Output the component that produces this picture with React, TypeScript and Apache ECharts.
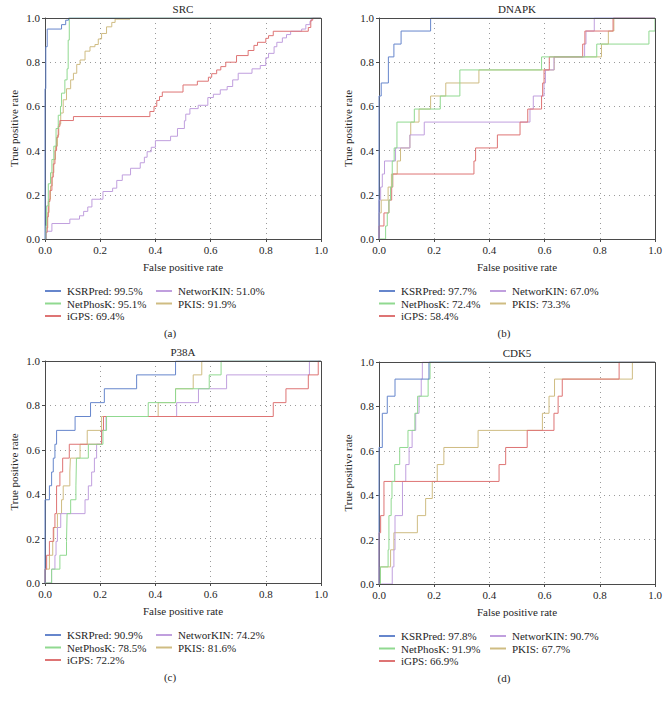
import React, { useEffect, useRef } from "react";
import * as echarts from "echarts";

// ---------- DATA ----------
const panelTitles = ["SRC", "DNAPK", "P38A", "CDK5"];
const captions = ["(a)", "(b)", "(c)", "(d)"];
const methods = ["KSRPred", "NetPhosK", "iGPS", "NetworKIN", "PKIS"];
const methodColors = ["#6686cc", "#90d990", "#de7474", "#c09fde", "#cfbc82"];
const axisTicks = [0, 0.2, 0.4, 0.6, 0.8, 1.0];

const aucSRC = ["99.5%", "95.1%", "69.4%", "51.0%", "91.9%"];
const aucDNAPK = ["97.7%", "72.4%", "58.4%", "67.0%", "73.3%"];
const aucP38A = ["90.9%", "78.5%", "72.2%", "74.2%", "81.6%"];
const aucCDK5 = ["97.8%", "91.9%", "66.9%", "90.7%", "67.7%"];

// ROC step points [false positive rate, true positive rate] where TPR rises
const srcKSRPred = [[0, 0.68], [0.003, 0.87], [0.008, 0.95], [0.06, 0.97], [0.075, 0.99], [0.085, 1]];
const srcNetPhosK = [[0.003, 0.06], [0.006, 0.15], [0.012, 0.25], [0.02, 0.3], [0.025, 0.36], [0.032, 0.42], [0.04, 0.5], [0.048, 0.56], [0.056, 0.6], [0.06, 0.66], [0.072, 0.72], [0.08, 0.77], [0.084, 0.9], [0.088, 1]];
const srcIGPS = [[0.003, 0.03], [0.008, 0.1], [0.012, 0.17], [0.018, 0.22], [0.025, 0.28], [0.03, 0.34], [0.036, 0.4], [0.042, 0.46], [0.048, 0.51], [0.054, 0.536], [0.103, 0.554], [0.38, 0.577], [0.395, 0.6], [0.405, 0.627], [0.415, 0.645], [0.425, 0.665], [0.5, 0.697], [0.552, 0.714], [0.592, 0.732], [0.604, 0.748], [0.622, 0.765], [0.637, 0.78], [0.655, 0.8], [0.694, 0.83], [0.736, 0.853], [0.757, 0.876], [0.77, 0.89], [0.8, 0.908], [0.81, 0.92], [0.827, 0.94], [0.954, 0.957], [0.963, 0.99], [0.97, 1]];
const srcNetworKIN = [[0.005, 0.035], [0.025, 0.07], [0.09, 0.09], [0.125, 0.105], [0.14, 0.125], [0.155, 0.145], [0.17, 0.18], [0.21, 0.215], [0.245, 0.23], [0.26, 0.265], [0.28, 0.29], [0.31, 0.32], [0.345, 0.345], [0.36, 0.37], [0.37, 0.395], [0.385, 0.415], [0.4, 0.445], [0.455, 0.465], [0.48, 0.5], [0.505, 0.535], [0.51, 0.565], [0.525, 0.59], [0.555, 0.605], [0.59, 0.64], [0.61, 0.655], [0.635, 0.675], [0.66, 0.69], [0.68, 0.72], [0.7, 0.75], [0.75, 0.77], [0.78, 0.785], [0.8, 0.82], [0.81, 0.84], [0.83, 0.87], [0.84, 0.89], [0.86, 0.91], [0.875, 0.925], [0.89, 0.94], [0.93, 0.95], [0.945, 0.97], [0.96, 0.985], [0.965, 1]];
const srcPKIS = [[0.004, 0.05], [0.01, 0.12], [0.015, 0.18], [0.02, 0.24], [0.026, 0.3], [0.032, 0.36], [0.038, 0.42], [0.045, 0.47], [0.05, 0.52], [0.057, 0.57], [0.066, 0.63], [0.078, 0.68], [0.093, 0.72], [0.103, 0.75], [0.115, 0.79], [0.127, 0.81], [0.145, 0.85], [0.163, 0.87], [0.181, 0.88], [0.193, 0.905], [0.205, 0.93], [0.223, 0.96], [0.242, 0.98], [0.254, 0.995], [0.308, 1]];

const dnKSRPred = [[0, 0.647], [0.008, 0.706], [0.034, 0.824], [0.054, 0.882], [0.08, 0.941], [0.187, 1]];
const dnNetPhosK = [[0.024, 0.059], [0.03, 0.118], [0.036, 0.176], [0.042, 0.235], [0.048, 0.353], [0.055, 0.412], [0.065, 0.529], [0.128, 0.588], [0.222, 0.647], [0.293, 0.765], [0.589, 0.824], [0.789, 0.882], [0.978, 0.941], [1, 1]];
const dnIGPS = [[0, 0.059], [0.018, 0.118], [0.036, 0.176], [0.046, 0.235], [0.05, 0.294], [0.344, 0.353], [0.35, 0.412], [0.429, 0.471], [0.511, 0.529], [0.539, 0.588], [0.589, 0.647], [0.593, 0.706], [0.598, 0.765], [0.617, 0.824], [0.738, 0.882], [0.746, 0.941], [0.848, 1]];
const dnNetworKIN = [[0, 0.176], [0.006, 0.235], [0.012, 0.294], [0.02, 0.353], [0.06, 0.412], [0.112, 0.471], [0.164, 0.529], [0.547, 0.588], [0.559, 0.647], [0.598, 0.706], [0.603, 0.765], [0.634, 0.824], [0.745, 0.882], [0.75, 0.941], [0.78, 1]];
const dnPKIS = [[0, 0.118], [0.008, 0.176], [0.033, 0.235], [0.045, 0.294], [0.066, 0.353], [0.078, 0.412], [0.112, 0.471], [0.115, 0.529], [0.145, 0.588], [0.187, 0.647], [0.242, 0.706], [0.362, 0.765], [0.635, 0.824], [0.806, 0.882], [0.831, 0.941], [0.851, 1]];

const p38KSRPred = [[0, 0.375], [0.016, 0.438], [0.024, 0.5], [0.03, 0.5625], [0.036, 0.625], [0.042, 0.6875], [0.109, 0.75], [0.165, 0.8125], [0.215, 0.875], [0.332, 0.9375], [0.473, 1]];
const p38NetPhosK = [[0.024, 0.0625], [0.054, 0.125], [0.078, 0.1875], [0.08, 0.3125], [0.093, 0.375], [0.112, 0.4375], [0.114, 0.5625], [0.157, 0.625], [0.21, 0.6875], [0.223, 0.75], [0.374, 0.8125], [0.473, 0.875], [0.595, 0.9375], [0.638, 1]];
const p38IGPS = [[0, 0.0625], [0.006, 0.125], [0.016, 0.1875], [0.03, 0.25], [0.036, 0.3125], [0.042, 0.4375], [0.054, 0.5], [0.064, 0.5625], [0.088, 0.625], [0.205, 0.6875], [0.212, 0.75], [0.827, 0.8125], [0.873, 0.875], [0.954, 0.9375], [0.99, 1]];
const p38NetworKIN = [[0.024, 0.0625], [0.036, 0.125], [0.04, 0.1875], [0.045, 0.25], [0.057, 0.3125], [0.145, 0.375], [0.157, 0.4375], [0.169, 0.5], [0.179, 0.5625], [0.187, 0.625], [0.205, 0.6875], [0.221, 0.75], [0.477, 0.8125], [0.556, 0.875], [0.658, 0.9375], [0.958, 1]];
const p38PKIS = [[0, 0.0625], [0.016, 0.125], [0.028, 0.1875], [0.032, 0.25], [0.045, 0.3125], [0.06, 0.375], [0.066, 0.4375], [0.09, 0.5], [0.092, 0.5625], [0.127, 0.625], [0.153, 0.6875], [0.205, 0.75], [0.41, 0.8125], [0.473, 0.875], [0.537, 0.9375], [0.568, 1]];

const cdkKSRPred = [[0, 0.615], [0.012, 0.769], [0.03, 0.846], [0.058, 0.923], [0.181, 1]];
const cdkNetPhosK = [[0.005, 0.077], [0.033, 0.154], [0.036, 0.308], [0.044, 0.385], [0.047, 0.462], [0.057, 0.538], [0.075, 0.615], [0.105, 0.692], [0.13, 0.769], [0.14, 0.846], [0.178, 0.923], [0.185, 1]];
const cdkIGPS = [[0, 0.231], [0.006, 0.308], [0.018, 0.462], [0.435, 0.538], [0.459, 0.615], [0.537, 0.692], [0.634, 0.769], [0.649, 0.846], [0.664, 0.923], [0.87, 1]];
const cdkNetworKIN = [[0.048, 0.077], [0.054, 0.154], [0.058, 0.308], [0.085, 0.462], [0.097, 0.538], [0.109, 0.615], [0.12, 0.692], [0.133, 0.769], [0.145, 0.846], [0.153, 0.923], [0.157, 1]];
const cdkPKIS = [[0.005, 0.077], [0.042, 0.154], [0.054, 0.231], [0.139, 0.308], [0.169, 0.385], [0.193, 0.462], [0.211, 0.538], [0.235, 0.615], [0.359, 0.692], [0.592, 0.769], [0.616, 0.846], [0.636, 0.923], [0.918, 1]];

const panelCurves = [
  [srcKSRPred, srcNetPhosK, srcIGPS, srcNetworKIN, srcPKIS],
  [dnKSRPred, dnNetPhosK, dnIGPS, dnNetworKIN, dnPKIS],
  [p38KSRPred, p38NetPhosK, p38IGPS, p38NetworKIN, p38PKIS],
  [cdkKSRPred, cdkNetPhosK, cdkIGPS, cdkNetworKIN, cdkPKIS],
];
const panelAUC = [aucSRC, aucDNAPK, aucP38A, aucCDK5];

// ---------- LAYOUT ----------
const FONT = "'Liberation Serif', 'Times New Roman', 'DejaVu Serif', serif";
const TXT = "#262626";
const FRAME = "#4a4a4a";
const gridBoxes = [
  { left: 45, top: 18, width: 276, height: 221 },
  { left: 379, top: 18, width: 276, height: 221 },
  { left: 45, top: 361, width: 276, height: 222 },
  { left: 379, top: 362, width: 276, height: 222 },
];

function toStairs(pts: number[][]): number[][] {
  const out: number[][] = [[0, 0]];
  let prevY = 0;
  for (const [x, y] of pts) {
    out.push([x, prevY]);
    out.push([x, y]);
    prevY = y;
  }
  out.push([1, prevY]);
  return out;
}

function buildOption() {
  const grid: any[] = [];
  const xAxis: any[] = [];
  const yAxis: any[] = [];
  const series: any[] = [];
  const legend: any[] = [];
  const title: any[] = [];
  const graphic: any[] = [];

  gridBoxes.forEach((g, i) => {
    grid.push({ ...g, show: false });
    // frame drawn above the curves (top, right, bottom edges)
    const x0 = g.left + 0.5, y0 = g.top + 0.5, x1 = g.left + g.width + 0.5, y1 = g.top + g.height + 0.5;
    graphic.push({
      type: "polyline",
      z: 100,
      silent: true,
      shape: { points: [[x0, y0], [x1, y0], [x1, y1], [x0, y1]] },
      style: { stroke: FRAME, lineWidth: 1, fill: null },
    });
    const common = {
      gridIndex: i,
      type: "value",
      min: 0,
      max: 1,
      interval: 0.2,
      nameLocation: "middle",
      nameTextStyle: { fontFamily: FONT, fontSize: 11, color: TXT },
      axisLine: { show: true, lineStyle: { color: FRAME, width: 1 } },
      axisTick: { show: true, length: 3, lineStyle: { color: FRAME } },
      axisLabel: {
        fontFamily: FONT,
        fontSize: 11,
        color: TXT,
        margin: 5,
        formatter: (v: number) => (axisTicks.includes(Math.round(v * 10) / 10) ? v.toFixed(1) : ""),
      },
      splitLine: { show: true, lineStyle: { color: "#9a9a9a", type: [1, 4], width: 1 } },
    };
    xAxis.push({ ...common, name: "False positive rate", nameGap: 22 });
    yAxis.push({ ...common, name: "True positive rate", nameGap: 26 });

    const cx = g.left + g.width / 2;
    title.push({
      text: panelTitles[i],
      left: cx,
      top: g.top - 15,
      padding: 0,
      textAlign: "center",
      textStyle: { fontFamily: FONT, fontSize: 11, fontWeight: "normal", color: TXT },
    });
    title.push({
      text: captions[i],
      left: cx - 13,
      top: g.top + g.height + 88,
      padding: 0,
      textAlign: "center",
      textStyle: { fontFamily: FONT, fontSize: 11, fontWeight: "normal", color: TXT },
    });

    const names = methods.map((m, k) => `${m}: ${panelAUC[i][k]}`);
    panelCurves[i].forEach((pts, k) => {
      series.push({
        type: "line",
        name: names[k],
        xAxisIndex: i,
        yAxisIndex: i,
        data: toStairs(pts),
        symbol: "none",
        showSymbol: false,
        lineStyle: { color: methodColors[k], width: 1 },
        itemStyle: { color: methodColors[k] },
        z: 10 - k,
      });
    });
    const legTop = g.top + g.height + 46;
    const legCommon = {
      orient: "vertical",
      top: legTop,
      padding: 0,
      icon: "rect",
      itemWidth: 16,
      itemHeight: 2,
      itemGap: 0.5,
      selectedMode: false,
      textStyle: { fontFamily: FONT, fontSize: 11, lineHeight: 12, color: TXT, padding: [0, 0, 0, 1] },
    };
    legend.push({ ...legCommon, left: g.left, data: names.slice(0, 3) });
    legend.push({ ...legCommon, left: g.left + 111, data: names.slice(3) });
  });

  return {
    animation: false,
    backgroundColor: "#ffffff",
    textStyle: { fontFamily: FONT },
    title,
    grid,
    xAxis,
    yAxis,
    legend,
    series,
    graphic,
  };
}

export default function App() {
  const ref = useRef<HTMLDivElement>(null);
  useEffect(() => {
    if (!ref.current) return;
    const chart = echarts.init(ref.current, null, { renderer: "svg" });
    chart.setOption(buildOption() as any);
    return () => chart.dispose();
  }, []);
  return (
    <div
      ref={ref}
      style={{ position: "fixed", left: 0, top: 0, width: 669, height: 702, background: "#fff" }}
    />
  );
}
